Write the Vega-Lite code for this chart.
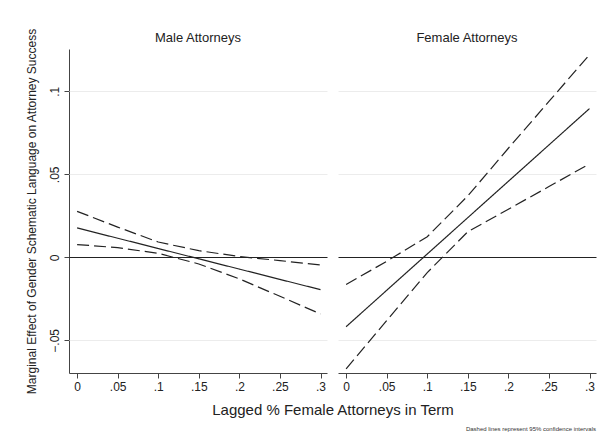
{
  "$schema": "https://vega.github.io/schema/vega-lite/v6.json",
  "background": "white",
  "padding": {"left": 25, "top": 28, "right": 10, "bottom": 5},
  "bounds": "flush",
  "title": {"text": "Dashed lines represent 95% confidence intervals", "orient": "bottom", "anchor": "end", "fontSize": 6, "font": "Liberation Sans", "fontWeight": "normal", "color": "#333", "offset": 8},
  "data": {"values": [
    {"panel": "Male Attorneys", "series": "estimate", "kind": "estimate", "x": 0, "y": 0.0177},
    {"panel": "Male Attorneys", "series": "estimate", "kind": "estimate", "x": 0.05, "y": 0.0115},
    {"panel": "Male Attorneys", "series": "estimate", "kind": "estimate", "x": 0.1, "y": 0.0053},
    {"panel": "Male Attorneys", "series": "estimate", "kind": "estimate", "x": 0.15, "y": -0.0009},
    {"panel": "Male Attorneys", "series": "estimate", "kind": "estimate", "x": 0.2, "y": -0.0071},
    {"panel": "Male Attorneys", "series": "estimate", "kind": "estimate", "x": 0.25, "y": -0.0133},
    {"panel": "Male Attorneys", "series": "estimate", "kind": "estimate", "x": 0.3, "y": -0.0195},
    {"panel": "Male Attorneys", "series": "upper", "kind": "ci", "x": 0, "y": 0.0277},
    {"panel": "Male Attorneys", "series": "upper", "kind": "ci", "x": 0.05, "y": 0.0182},
    {"panel": "Male Attorneys", "series": "upper", "kind": "ci", "x": 0.1, "y": 0.0092},
    {"panel": "Male Attorneys", "series": "upper", "kind": "ci", "x": 0.15, "y": 0.0040},
    {"panel": "Male Attorneys", "series": "upper", "kind": "ci", "x": 0.2, "y": 0.0005},
    {"panel": "Male Attorneys", "series": "upper", "kind": "ci", "x": 0.25, "y": -0.0020},
    {"panel": "Male Attorneys", "series": "upper", "kind": "ci", "x": 0.3, "y": -0.0046},
    {"panel": "Male Attorneys", "series": "lower", "kind": "ci", "x": 0, "y": 0.0077},
    {"panel": "Male Attorneys", "series": "lower", "kind": "ci", "x": 0.05, "y": 0.0058},
    {"panel": "Male Attorneys", "series": "lower", "kind": "ci", "x": 0.1, "y": 0.0024},
    {"panel": "Male Attorneys", "series": "lower", "kind": "ci", "x": 0.15, "y": -0.0040},
    {"panel": "Male Attorneys", "series": "lower", "kind": "ci", "x": 0.2, "y": -0.0130},
    {"panel": "Male Attorneys", "series": "lower", "kind": "ci", "x": 0.25, "y": -0.0235},
    {"panel": "Male Attorneys", "series": "lower", "kind": "ci", "x": 0.3, "y": -0.0341},
    {"panel": "Female Attorneys", "series": "estimate", "kind": "estimate", "x": 0, "y": -0.0418},
    {"panel": "Female Attorneys", "series": "estimate", "kind": "estimate", "x": 0.05, "y": -0.0199},
    {"panel": "Female Attorneys", "series": "estimate", "kind": "estimate", "x": 0.1, "y": 0.0020},
    {"panel": "Female Attorneys", "series": "estimate", "kind": "estimate", "x": 0.15, "y": 0.0239},
    {"panel": "Female Attorneys", "series": "estimate", "kind": "estimate", "x": 0.2, "y": 0.0458},
    {"panel": "Female Attorneys", "series": "estimate", "kind": "estimate", "x": 0.25, "y": 0.0677},
    {"panel": "Female Attorneys", "series": "estimate", "kind": "estimate", "x": 0.3, "y": 0.0896},
    {"panel": "Female Attorneys", "series": "upper", "kind": "ci", "x": 0, "y": -0.0164},
    {"panel": "Female Attorneys", "series": "upper", "kind": "ci", "x": 0.05, "y": -0.0024},
    {"panel": "Female Attorneys", "series": "upper", "kind": "ci", "x": 0.1, "y": 0.0124},
    {"panel": "Female Attorneys", "series": "upper", "kind": "ci", "x": 0.15, "y": 0.0370},
    {"panel": "Female Attorneys", "series": "upper", "kind": "ci", "x": 0.2, "y": 0.0657},
    {"panel": "Female Attorneys", "series": "upper", "kind": "ci", "x": 0.25, "y": 0.0939},
    {"panel": "Female Attorneys", "series": "upper", "kind": "ci", "x": 0.3, "y": 0.1221},
    {"panel": "Female Attorneys", "series": "lower", "kind": "ci", "x": 0, "y": -0.0672},
    {"panel": "Female Attorneys", "series": "lower", "kind": "ci", "x": 0.05, "y": -0.0381},
    {"panel": "Female Attorneys", "series": "lower", "kind": "ci", "x": 0.1, "y": -0.0092},
    {"panel": "Female Attorneys", "series": "lower", "kind": "ci", "x": 0.15, "y": 0.0154},
    {"panel": "Female Attorneys", "series": "lower", "kind": "ci", "x": 0.2, "y": 0.0290},
    {"panel": "Female Attorneys", "series": "lower", "kind": "ci", "x": 0.25, "y": 0.0426},
    {"panel": "Female Attorneys", "series": "lower", "kind": "ci", "x": 0.3, "y": 0.0563}
  ]},
  "facet": {
    "column": {
      "field": "panel", "type": "nominal",
      "sort": ["Male Attorneys", "Female Attorneys"],
      "title": "Lagged % Female Attorneys in Term",
      "header": {
        "titleOrient": "bottom", "labelOrient": "top",
        "titleFontSize": 15, "titleFont": "Liberation Sans", "titleFontWeight": "normal", "titleColor": "#222",
        "labelFontSize": 13, "labelFont": "Liberation Sans", "labelColor": "#222",
        "labelPadding": 4, "titlePadding": 1
      }
    }
  },
  "spacing": 11,
  "spec": {
    "width": 258,
    "height": 324,
    "mark": {"type": "line", "strokeWidth": 1.2, "color": "#222"},
    "encoding": {
      "x": {
        "field": "x", "type": "quantitative",
        "scale": {"domain": [-0.01, 0.308], "nice": false, "zero": false},
        "axis": {"values": [0, 0.05, 0.1, 0.15, 0.2, 0.25, 0.3], "title": null,
                 "labelExpr": "datum.value == 0 ? '0' : replace(format(datum.value, '.2~f'), '0.', '.')"}
      },
      "y": {
        "field": "y", "type": "quantitative",
        "scale": {"domain": [-0.0697, 0.1255], "nice": false, "zero": false},
        "axis": {"values": [-0.05, 0, 0.05, 0.1],
                 "title": "Marginal Effect of Gender Schematic Language on Attorney Success",
                 "labelAngle": -90, "labelAlign": "center", "labelBaseline": "bottom",
                 "labelExpr": "datum.value == 0 ? '0' : replace(format(datum.value, '.2~f'), '0.', '.')",
                 "gridColor": {"condition": {"test": "datum.value === 0", "value": "#222"}, "value": "#ececec"},
                 "gridWidth": {"condition": {"test": "datum.value === 0", "value": 1.2}, "value": 1}}
      },
      "detail": {"field": "series"},
      "strokeDash": {"field": "kind", "type": "nominal", "scale": {"domain": ["estimate", "ci"], "range": [[1, 0], [12, 5]]}, "legend": null}
    }
  },
  "config": {
    "view": {"stroke": null},
    "axis": {
      "labelFont": "Liberation Sans", "labelFontSize": 12, "labelColor": "#222",
      "titleFont": "Liberation Sans", "titleFontSize": 12, "titleFontWeight": "normal", "titleColor": "#222",
      "domainColor": "#444", "tickColor": "#444", "tickSize": 5, "labelPadding": 3, "titlePadding": 10
    },
    "axisX": {"grid": false},
    "axisY": {"grid": true}
  }
}
